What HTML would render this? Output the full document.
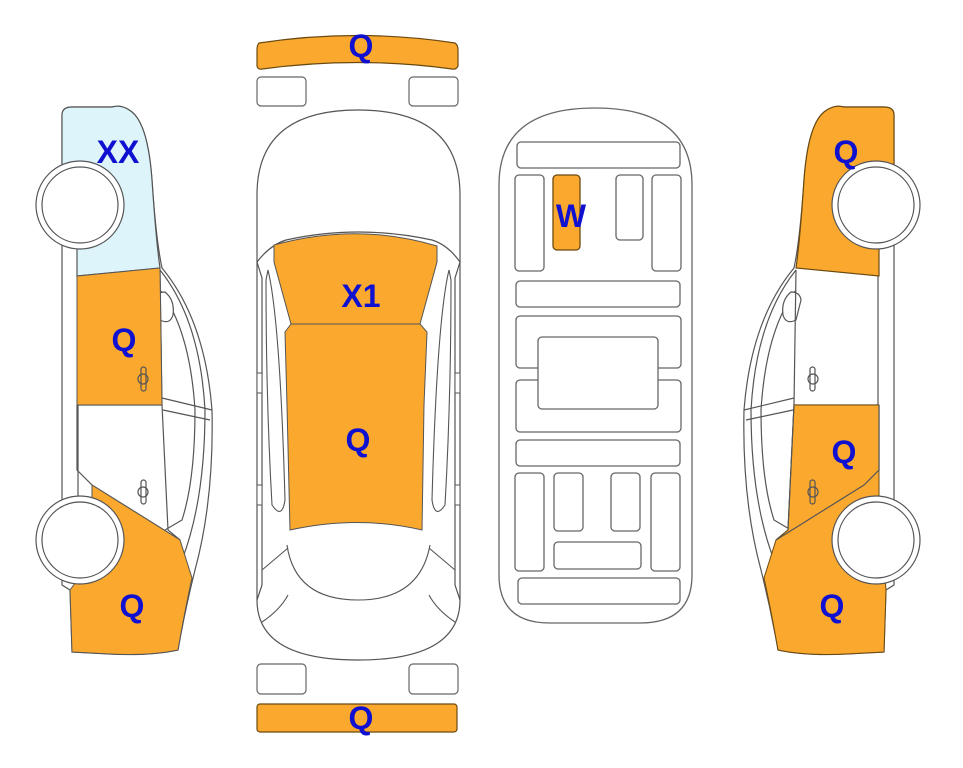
<!DOCTYPE html>
<html><head><style>
html,body{margin:0;padding:0;background:#fff;}
svg{display:block;}
text{font-family:"Liberation Sans",Arial,sans-serif;font-weight:bold;fill:#1010d0;font-size:32px;text-anchor:middle;}
</style></head><body>
<svg width="963" height="768" viewBox="0 0 963 768" xmlns="http://www.w3.org/2000/svg">
<defs>
<g id="side">
  <path d="M62,115 Q62,107 72,107 L112,107 Q122,104 132,112 Q148,125 152,180 Q156,240 162,268 Q205,320 212,410 Q214,500 195,570 Q185,610 178,650 Q150,656 110,654 L72,652 L70,590 L62,585 L62,115 Z" fill="#fff" stroke="#555" stroke-width="1.2"/>
  <path d="M160,270 Q200,320 205,410 Q205,500 182,560" fill="none" stroke="#555" stroke-width="1.2"/>
  <path d="M160,290 Q190,330 195,410 Q195,480 182,520 L165,530" fill="none" stroke="#555" stroke-width="1.2"/>
  <path d="M162,398 L212,410 M163,410 L210,420" stroke="#555" stroke-width="1.2"/>
  <path d="M155,300 Q156,292 165,292 Q175,300 173,315 Q170,325 160,320 Z" fill="#fff" stroke="#555" stroke-width="1.2"/>
  <path d="M62,245 L78,245 L78,500 L62,500" fill="none" stroke="#555" stroke-width="1.2"/>
  <path d="M77,405 L162,405 L168,530 L180,540" fill="none" stroke="#555" stroke-width="1.2"/>
  <path d="M77,405 L77,470 L92,485 L180,540" fill="none" stroke="#555" stroke-width="1.2"/>
  <path d="M160,270 L162,405" stroke="#555" stroke-width="1.2"/>
  <g stroke="#555" stroke-width="1.2" fill="none">
   <rect x="141" y="367" width="5" height="24" rx="2.5"/><path d="M138,379 a5,5 0 1,0 10,0 a5,5 0 1,0 -10,0"/>
   <rect x="141" y="480" width="5" height="24" rx="2.5"/><path d="M138,492 a5,5 0 1,0 10,0 a5,5 0 1,0 -10,0"/>
  </g>
</g>
<g id="wheels">
  <circle cx="80" cy="205" r="44" fill="#fff" stroke="#555" stroke-width="1.2"/>
  <circle cx="80" cy="205" r="38" fill="none" stroke="#555" stroke-width="1.2"/>
  <circle cx="80" cy="540" r="44" fill="#fff" stroke="#555" stroke-width="1.2"/>
  <circle cx="80" cy="540" r="38" fill="none" stroke="#555" stroke-width="1.2"/>
</g>
</defs>

<use href="#side"/>
<path d="M62,115 Q62,107 72,107 L112,107 Q122,104 132,112 Q148,125 152,180 Q156,240 160,268 L77,276 L77,245 L62,245 Z" fill="#ddf4fb" stroke="#555" stroke-width="1.2"/>
<path d="M77,276 L160,268 L162,405 L77,405 Z" fill="#fba92e" stroke="#555" stroke-width="1"/>
<path d="M92,485 L180,540 L192,578 Q185,610 178,650 Q150,656 110,654 L72,652 L70,590 L92,560 Z" fill="#fba92e" stroke="#555" stroke-width="1"/>
<g stroke="#555" stroke-width="1.2" fill="none">
 <rect x="141" y="367" width="5" height="24" rx="2.5"/><path d="M138,379 a5,5 0 1,0 10,0 a5,5 0 1,0 -10,0"/>
</g>
<use href="#wheels"/>
<text x="118" y="163">XX</text>
<text x="124" y="351">Q</text>
<text x="132" y="617">Q</text>

<g transform="translate(956,0) scale(-1,1)">
<use href="#side"/>
<path d="M62,115 Q62,107 72,107 L112,107 Q122,104 132,112 Q148,125 152,180 Q156,240 160,268 L77,276 L77,245 L62,245 Z" fill="#fba92e" stroke="#6b4a10" stroke-width="1.2"/>
<path d="M77,405 L162,405 L168,530 L180,540 L192,578 Q185,610 178,650 Q150,656 110,654 L72,652 L70,590 L77,500 Z" fill="#fba92e" stroke="#6b4a10" stroke-width="1"/>
<path d="M77,405 L77,470 L92,485 L180,540 M162,405 L168,530" fill="none" stroke="#555" stroke-width="1.2"/>
<g stroke="#555" stroke-width="1.2" fill="none">
 <rect x="141" y="480" width="5" height="24" rx="2.5"/><path d="M138,492 a5,5 0 1,0 10,0 a5,5 0 1,0 -10,0"/>
</g>
<use href="#wheels"/>
</g>
<text x="846" y="163">Q</text>
<text x="844" y="463">Q</text>
<text x="832" y="617">Q</text>

<path d="M259,43 Q358,28 455,43 Q458,45 458,50 L458,66 Q456,70 452,69 Q358,56 262,69 Q258,70 257,66 L257,50 Q257,45 259,43 Z" fill="#fba92e" stroke="#6b4a10" stroke-width="1.2"/>
<text x="361" y="57">Q</text>
<rect x="257" y="77" width="49" height="29" rx="4" fill="#fff" stroke="#666" stroke-width="1.2"/>
<rect x="409" y="77" width="49" height="29" rx="4" fill="#fff" stroke="#666" stroke-width="1.2"/>
<rect x="257" y="664" width="49" height="30" rx="4" fill="#fff" stroke="#666" stroke-width="1.2"/>
<rect x="409" y="664" width="49" height="30" rx="4" fill="#fff" stroke="#666" stroke-width="1.2"/>
<rect x="257" y="704" width="200" height="28" rx="3" fill="#fba92e" stroke="#6b4a10" stroke-width="1.2"/>
<text x="361" y="729">Q</text>

<path d="M257,195 Q257,110 358,110 Q460,110 460,195 L460,600 Q460,660 358,660 Q257,660 257,600 Z" fill="#fff" stroke="#555" stroke-width="1.2"/>
<path d="M257,262 Q270,245 286,240 Q358,224 432,240 Q448,245 460,262" fill="none" stroke="#555" stroke-width="1.2"/>
<path d="M257,262 L262,278 L262,585 L257,600 M460,262 L455,278 L455,585 L460,600" fill="none" stroke="#555" stroke-width="1.2"/>
<path d="M268,270 Q280,320 285,500 Q282,520 272,505 Q266,400 266,280 Z" fill="none" stroke="#555" stroke-width="1.1"/>
<path d="M449,270 Q437,320 432,500 Q435,520 445,505 Q451,400 451,280 Z" fill="none" stroke="#555" stroke-width="1.1"/>
<path d="M262,570 L288,548 M455,570 L429,548 M262,622 Q280,610 288,595 M455,622 Q437,610 429,595" fill="none" stroke="#555" stroke-width="1.1"/>
<path d="M287,545 Q295,600 358,600 Q420,600 430,545" fill="none" stroke="#555" stroke-width="1.1"/>
<rect x="257" y="373" width="5" height="20" fill="#fff" stroke="#555"/><rect x="455" y="373" width="5" height="20" fill="#fff" stroke="#555"/>
<rect x="257" y="485" width="5" height="20" fill="#fff" stroke="#555"/><rect x="455" y="485" width="5" height="20" fill="#fff" stroke="#555"/>
<path d="M274,245 Q358,222 437,246 L437,262 L420,324 L291,324 L274,262 Z" fill="#fba92e" stroke="#555" stroke-width="1"/>
<path d="M285,332 L291,324 L420,324 L427,332 L424,405 L422,530 Q358,515 290,530 L287,405 Z" fill="#fba92e" stroke="#555" stroke-width="1"/>
<text x="361" y="307">X1</text>
<text x="358" y="451">Q</text>

<path d="M499,185 Q499,108 595,108 Q692,108 692,185 L692,575 Q692,623 640,623 L550,623 Q499,623 499,575 Z" fill="#fff" stroke="#666" stroke-width="1.3"/>
<g fill="#fff" stroke="#666" stroke-width="1.3">
<rect x="517" y="142" width="163" height="26" rx="4"/>
<rect x="515" y="175" width="29" height="96" rx="4"/>
<rect x="616" y="175" width="27" height="65" rx="4"/>
<rect x="652" y="175" width="29" height="96" rx="4"/>
<rect x="516" y="281" width="164" height="26" rx="4"/>
<rect x="516" y="316" width="165" height="52" rx="4"/>
<rect x="516" y="380" width="165" height="52" rx="4"/>
<rect x="538" y="337" width="120" height="72" rx="4"/>
<rect x="516" y="440" width="164" height="26" rx="4"/>
<rect x="515" y="473" width="29" height="98" rx="4"/>
<rect x="554" y="473" width="29" height="58" rx="4"/>
<rect x="611" y="473" width="29" height="58" rx="4"/>
<rect x="651" y="473" width="29" height="98" rx="4"/>
<rect x="554" y="542" width="87" height="27" rx="4"/>
<rect x="518" y="578" width="162" height="26" rx="4"/>
</g>
<rect x="553" y="175" width="27" height="75" rx="4" fill="#fba92e" stroke="#6b4a10" stroke-width="1.3"/>
<text x="571" y="227">W</text>
</svg>
</body></html>
